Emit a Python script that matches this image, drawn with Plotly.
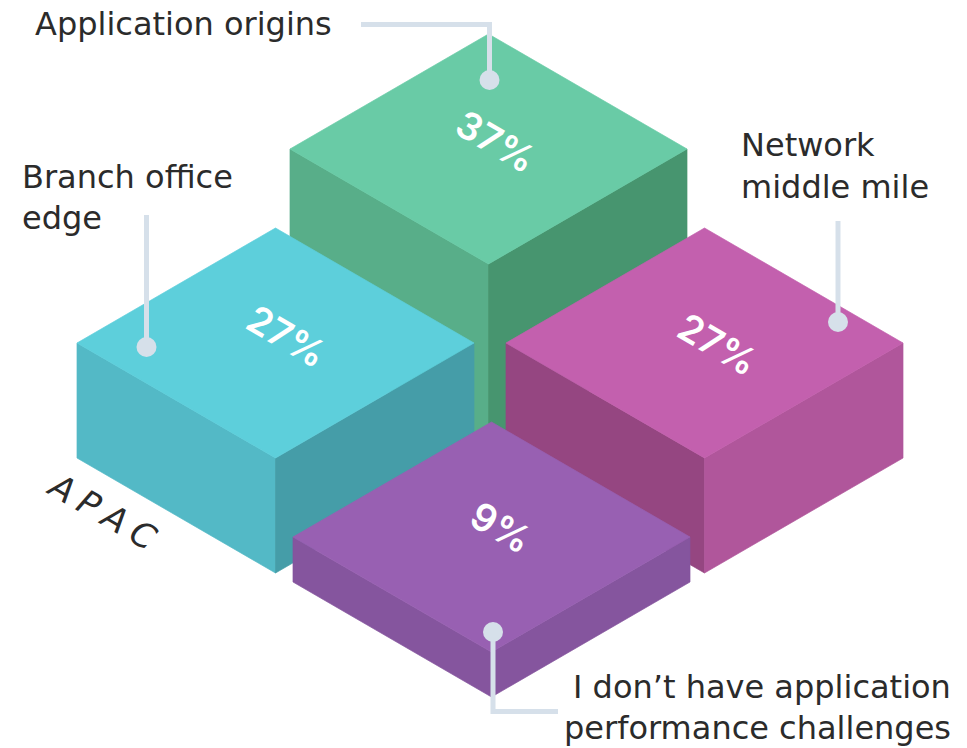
import numpy as np
import plotly.graph_objects as go

# values, drawn back to front
categories = ['Application origins', 'Branch office edge', 'Network middle mile',
              "I don’t have application performance challenges"]
values = [37, 27, 27, 9]
grid_u = [0, 0, 1, 1]
grid_v = [0, 1, 0, 1]
region = 'APAC'

# top, left side, right side
top_colors = ['#69CBA6', '#5DCFDB', '#C360AE', '#9860B2']
left_colors = ['#58AE89', '#53B9C6', '#954681', '#85559E']
right_colors = ['#47956F', '#459DA8', '#B0569B', '#85559E']

# the block heights in the picture are not proportional, so scale through these stops
scale_values = [9, 27, 37]
scale_heights = [45, 115, 185]

# where each percent label sits relative to the middle of its top face
label_dx = [7, 11, 13, 9]
label_dy = [-8, -7, 1, -10]

FONT = 'DejaVu Sans'
TEXT_COLOR = '#2B2B2B'
LINE_COLOR = '#D6E0EA'


def project(u, v):
    # grid position to page pixels
    return 488.5 + u * 216 - v * 213, 334 + (u + v) * 124


def add_face(fig, xs, ys, color):
    # thin outline in the face colour closes the seams between faces
    fig.add_trace(go.Scatter(x=xs, y=ys, mode='lines', fill='toself', fillcolor=color,
                             line=dict(width=0.7, color=color), hoverinfo='skip', showlegend=False))


def add_block(fig, i):
    cx, cy = project(grid_u[i], grid_v[i])
    h = float(np.interp(values[i], scale_values, scale_heights))
    w, d = 198.5, 115
    ty = cy - h
    add_face(fig, [cx - w, cx, cx, cx - w, cx - w], [ty, ty + d, cy + d, cy, ty], left_colors[i])
    add_face(fig, [cx + w, cx, cx, cx + w, cx + w], [ty, ty + d, cy + d, cy, ty], right_colors[i])
    add_face(fig, [cx, cx + w, cx, cx - w, cx], [ty - d, ty, ty + d, ty, ty - d], top_colors[i])
    fig.add_annotation(x=cx + label_dx[i], y=ty + label_dy[i], text=f'{values[i]}%',
                       showarrow=False, textangle=30,
                       font=dict(family='Inter', size=38, color='white', weight=600))


def add_leader(fig, xs, ys, dot_x, dot_y):
    fig.add_trace(go.Scatter(x=xs, y=ys, mode='lines', line=dict(color=LINE_COLOR, width=5),
                             hoverinfo='skip', showlegend=False))
    fig.add_trace(go.Scatter(x=[dot_x], y=[dot_y], mode='markers',
                             marker=dict(color=LINE_COLOR, size=20, line=dict(width=0)),
                             hoverinfo='skip', showlegend=False))


def add_label(fig, x, y, text, anchor='left'):
    fig.add_annotation(x=x, y=y, text=text, showarrow=False, xanchor=anchor, yanchor='middle',
                       align=anchor, font=dict(family=FONT, size=32, color=TEXT_COLOR))


fig = go.Figure()

for i in range(len(values)):
    add_block(fig, i)

add_leader(fig, [361, 489.5, 489.5], [24.5, 24.5, 80], 489.5, 80)
add_leader(fig, [146.5, 146.5], [215, 347], 146.5, 347)
add_leader(fig, [838, 838], [221, 322], 838, 322)
add_leader(fig, [493, 493, 558], [632, 711.5, 711.5], 493, 632)

add_label(fig, 33, 24, categories[0])
add_label(fig, 20, 177, 'Branch office')
add_label(fig, 20, 218, 'edge')
add_label(fig, 739, 145, 'Network')
add_label(fig, 739, 187, 'middle mile')
add_label(fig, 953, 687, 'I don’t have application', anchor='right')
add_label(fig, 953, 728, 'performance challenges', anchor='right')

fig.add_annotation(x=102, y=511, text='\u2005'.join(region), showarrow=False, textangle=30,
                   font=dict(family=FONT, size=34, color=TEXT_COLOR, style='italic'))

fig.update_layout(
    width=967,
    height=748,
    margin=dict(l=0, r=0, t=0, b=0),
    paper_bgcolor='white',
    plot_bgcolor='white',
    showlegend=False,
    xaxis=dict(range=[0, 967], visible=False, fixedrange=True),
    yaxis=dict(range=[748, 0], visible=False, fixedrange=True),
)

fig.write_html("out.html", config=dict(displayModeBar=False),
               post_script="document.body.style.margin='0'")
